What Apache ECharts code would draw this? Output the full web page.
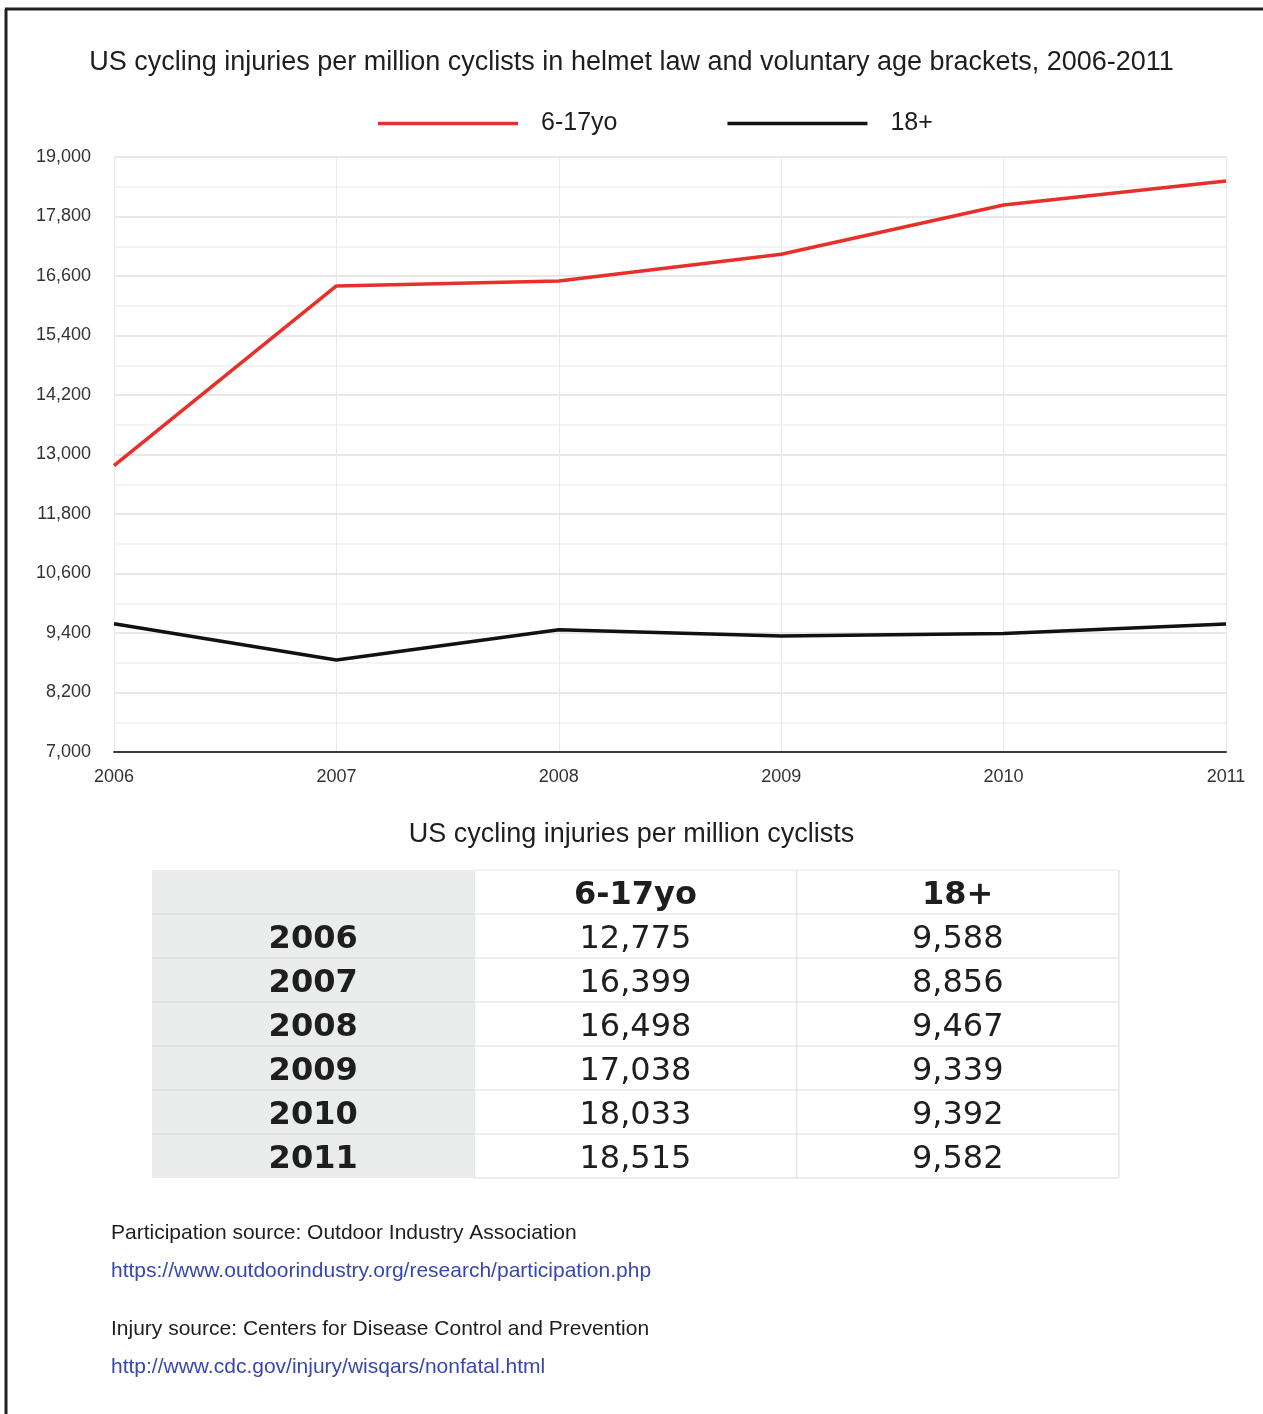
<!DOCTYPE html>
<html>
<head>
<meta charset="utf-8">
<script src="https://cdn.jsdelivr.net/npm/echarts@6/dist/echarts.min.js"></script>
<style>
  html, body { margin: 0; padding: 0; background: #fff; }
  #chart { width: 1263px; height: 1414px; }
</style>
</head>
<body>
<div id="chart"></div>
<script>
// Injuries per million cyclists, by age bracket
const years = ['2006', '2007', '2008', '2009', '2010', '2011'];
const youthRate = [12775, 16399, 16498, 17038, 18033, 18515];
const adultRate = [9588, 8856, 9467, 9339, 9392, 9582];
const seriesNames = ['6-17yo', '18+'];

const fmt = v => Number(v).toLocaleString('en-US');
const FONT = '"Liberation Sans", Arial, Helvetica, sans-serif';
const TABLE_FONT = '"DejaVu Sans", Verdana, sans-serif';

// Summary table below the chart
const tableLeft = 152, tableTop = 870, colW = 322.3, rowH = 44;
const nCols = 3, nRows = years.length + 1;
const tableW = colW * nCols, tableH = rowH * nRows;
const table = [];
table.push({ type: 'rect', shape: { x: tableLeft, y: tableTop, width: colW, height: tableH },
  style: { fill: '#ebecec' }, silent: true });
for (let r = 1; r < nRows; r++) {
  table.push({ type: 'line', shape: { x1: tableLeft, y1: tableTop + r * rowH, x2: tableLeft + colW, y2: tableTop + r * rowH },
    style: { stroke: '#dadbdb', lineWidth: 1.5 }, silent: true });
  table.push({ type: 'line', shape: { x1: tableLeft + colW, y1: tableTop + r * rowH, x2: tableLeft + tableW, y2: tableTop + r * rowH },
    style: { stroke: '#e9e9e9', lineWidth: 1.5 }, silent: true });
}
for (let c = 1; c <= nCols; c++) {
  const x = tableLeft + c * colW;
  table.push({ type: 'line', shape: { x1: x, y1: tableTop, x2: x, y2: tableTop + tableH },
    style: { stroke: '#e6e6e6', lineWidth: 1.5 }, silent: true });
}
table.push({ type: 'line', shape: { x1: tableLeft + colW, y1: tableTop, x2: tableLeft + tableW, y2: tableTop },
  style: { stroke: '#eeeeee', lineWidth: 1.5 }, silent: true });
table.push({ type: 'line', shape: { x1: tableLeft + colW, y1: tableTop + tableH, x2: tableLeft + tableW, y2: tableTop + tableH },
  style: { stroke: '#e6e6e6', lineWidth: 1.5 }, silent: true });

function cellText(text, col, row, bold) {
  return {
    type: 'text',
    x: tableLeft + colW * (col + 0.5),
    y: tableTop + rowH * (row + 0.5) + 4,
    style: {
      text: text, fill: '#1e1e1e', align: 'center', verticalAlign: 'middle',
      font: (bold ? 'bold ' : '') + '32px ' + TABLE_FONT
    },
    silent: true
  };
}
table.push(cellText(seriesNames[0], 1, 0, true));
table.push(cellText(seriesNames[1], 2, 0, true));
years.forEach((y, i) => {
  table.push(cellText(y, 0, i + 1, true));
  table.push(cellText(fmt(youthRate[i]), 1, i + 1, false));
  table.push(cellText(fmt(adultRate[i]), 2, i + 1, false));
});

// Sources
const notes = [
  { text: 'Participation source: Outdoor Industry Association', y: 1233, fill: '#1e1e1e' },
  { text: 'https://www.outdoorindustry.org/research/participation.php', y: 1271, fill: '#3747b0' },
  { text: 'Injury source: Centers for Disease Control and Prevention', y: 1329, fill: '#1e1e1e' },
  { text: 'http://www.cdc.gov/injury/wisqars/nonfatal.html', y: 1367, fill: '#3747b0' }
].map(n => ({
  type: 'text', x: 111, y: n.y,
  style: { text: n.text, fill: n.fill, font: '21px ' + FONT, verticalAlign: 'middle', align: 'left' },
  silent: true
}));

// Frame lines on the page edge
const frame = [
  { type: 'line', shape: { x1: 6, y1: 9, x2: 6, y2: 1414 }, style: { stroke: '#222', lineWidth: 3 }, silent: true },
  { type: 'line', shape: { x1: 5, y1: 9, x2: 1263, y2: 9 }, style: { stroke: '#222', lineWidth: 3 }, silent: true }
];

const chart = echarts.init(document.getElementById('chart'), null, { renderer: 'canvas' });
chart.setOption({
  backgroundColor: '#fff',
  animation: false,
  textStyle: { fontFamily: FONT },
  title: [
    {
      text: 'US cycling injuries per million cyclists in helmet law and voluntary age brackets, 2006-2011',
      left: 'center', top: 44,
      textStyle: { fontSize: 27, fontWeight: 'normal', color: '#1e1e1e', fontFamily: FONT }
    },
    {
      text: 'US cycling injuries per million cyclists',
      left: 'center', top: 816,
      textStyle: { fontSize: 27, fontWeight: 'normal', color: '#1e1e1e', fontFamily: FONT }
    }
  ],
  legend: {
    data: seriesNames,
    left: 373, top: 106,
    icon: 'rect',
    itemWidth: 140, itemHeight: 3.5,
    itemGap: 110,
    textStyle: { fontSize: 25, color: '#1e1e1e', fontFamily: FONT, padding: [0, 0, 0, 18] }
  },
  grid: { left: 114, top: 157, width: 1112, height: 595, containLabel: false },
  xAxis: {
    type: 'category',
    data: years,
    boundaryGap: false,
    axisLine: { lineStyle: { color: '#3a3a3a', width: 2 } },
    axisTick: { show: false },
    axisLabel: { fontSize: 18, color: '#333', margin: 16, fontFamily: FONT },
    splitLine: { show: true, lineStyle: { color: '#e8e8ec', width: 1 } }
  },
  yAxis: {
    type: 'value',
    min: 7000, max: 19000, interval: 1200,
    axisLine: { show: false },
    axisTick: { show: false },
    axisLabel: { fontSize: 18, color: '#333', margin: 23, formatter: fmt, fontFamily: FONT },
    splitLine: { lineStyle: { color: '#dfe0e3', width: 1.5 } },
    minorTick: { show: false, splitNumber: 2 },
    minorSplitLine: { show: true, lineStyle: { color: '#efefef', width: 1.5 } }
  },
  series: [
    {
      name: seriesNames[0], type: 'line', data: youthRate,
      symbol: 'none', color: '#e8302a',
      lineStyle: { width: 3.5, color: '#e8302a' }
    },
    {
      name: seriesNames[1], type: 'line', data: adultRate,
      symbol: 'none', color: '#111',
      lineStyle: { width: 3.5, color: '#111' }
    }
  ],
  graphic: frame.concat(table, notes)
});
</script>
</body>
</html>
